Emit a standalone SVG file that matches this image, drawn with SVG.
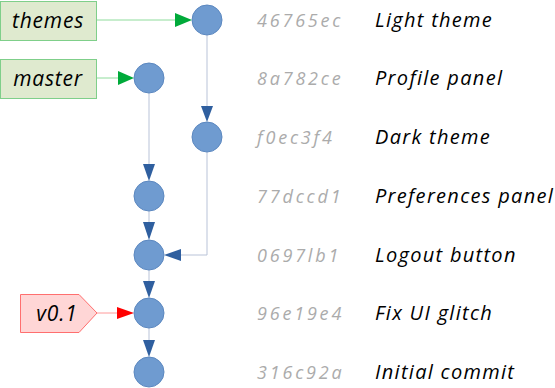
<svg xmlns="http://www.w3.org/2000/svg" width="555" height="388" viewBox="0 0 555 388">
<style>
.c{fill:#6f9bd0;stroke:#5c88c0;stroke-width:1}
.l{fill:none;stroke:#b9c3d8;stroke-width:1}
.lg{fill:none;stroke:#8fdc9c;stroke-width:1}
.lr{fill:none;stroke:#ff9a9a;stroke-width:1}
.ab{fill:#2f5f9f}
.ag{fill:#00aa3a}
.ar{fill:#ff0000}
.h{font-family:"Open Sans","DejaVu Sans",sans-serif;font-style:italic;font-size:18px;letter-spacing:2.8px;fill:#ababab}
.m{font-family:"Open Sans","DejaVu Sans",sans-serif;font-style:italic;font-size:20px;letter-spacing:1.3px;fill:#000}
.t{font-family:"Open Sans","DejaVu Sans",sans-serif;font-style:italic;font-size:21px;letter-spacing:0.8px;fill:#000;text-anchor:middle}
.bg{fill:#dfeacf;stroke:#7fcf8a;stroke-width:1}
.br{fill:#ffd6d6;stroke:#ff6f6f;stroke-width:1}
</style>
<g id="connectors">
<line class="lg" x1="96" y1="20" x2="177" y2="20"/>
<polygon class="ag" points="175,13 192,20 175,27"/>
<line class="lg" x1="96" y1="78" x2="120" y2="78"/>
<polygon class="ag" points="118,71 134,78 118,85"/>
<line class="lr" x1="97" y1="313" x2="119" y2="313"/>
<polygon class="ar" points="117,307 134,313 117,319"/>
<line class="l" x1="207" y1="35" x2="207" y2="106"/>
<polygon class="ab" points="201,106 213,106 207,122"/>
<line class="l" x1="149" y1="93" x2="149" y2="166"/>
<polygon class="ab" points="143,164 155,164 149,181"/>
<line class="l" x1="149" y1="211" x2="149" y2="224"/>
<polygon class="ab" points="143,222 155,222 149,240"/>
<polyline class="l" points="207,152 207,255 180,255"/>
<polygon class="ab" points="181,249 181,261 164,255"/>
<line class="l" x1="149" y1="270" x2="149" y2="282"/>
<polygon class="ab" points="143,281 155,281 149,298"/>
<line class="l" x1="149" y1="328" x2="149" y2="341"/>
<polygon class="ab" points="143,340 155,340 149,357"/>
</g>
<g id="themes"><rect class="bg" x="0.5" y="1.5" width="96" height="39"/><text class="t" x="48" y="28">themes</text></g>
<g id="master"><rect class="bg" x="0.5" y="59.5" width="96" height="39"/><text class="t" x="48" y="86">master</text></g>
<g id="v01"><polygon class="br" points="20.5,294.5 79,294.5 97,313 79,332.5 20.5,332.5"/><text class="t" x="57" y="321">v0.1</text></g>
<g id="c1"><circle class="c" cx="207" cy="20" r="15"/><text class="h" x="257" y="27">46765ec</text><text class="m" x="375" y="27">Light theme</text></g>
<g id="c2"><circle class="c" cx="149" cy="78" r="15"/><text class="h" x="257" y="85">8a782ce</text><text class="m" x="375" y="85">Profile panel</text></g>
<g id="c3"><circle class="c" cx="207" cy="137" r="15"/><text class="h" x="257" y="144">f0ec3f4</text><text class="m" x="375" y="144">Dark theme</text></g>
<g id="c4"><circle class="c" cx="149" cy="196" r="15"/><text class="h" x="257" y="203">77dccd1</text><text class="m" x="375" y="203">Preferences panel</text></g>
<g id="c5"><circle class="c" cx="149" cy="255" r="15"/><text class="h" x="257" y="262">0697lb1</text><text class="m" x="375" y="262">Logout button</text></g>
<g id="c6"><circle class="c" cx="149" cy="313" r="15"/><text class="h" x="257" y="320">96e19e4</text><text class="m" x="375" y="320">Fix UI glitch</text></g>
<g id="c7"><circle class="c" cx="149" cy="372" r="15"/><text class="h" x="257" y="379">316c92a</text><text class="m" x="375" y="379">Initial commit</text></g>
</svg>
